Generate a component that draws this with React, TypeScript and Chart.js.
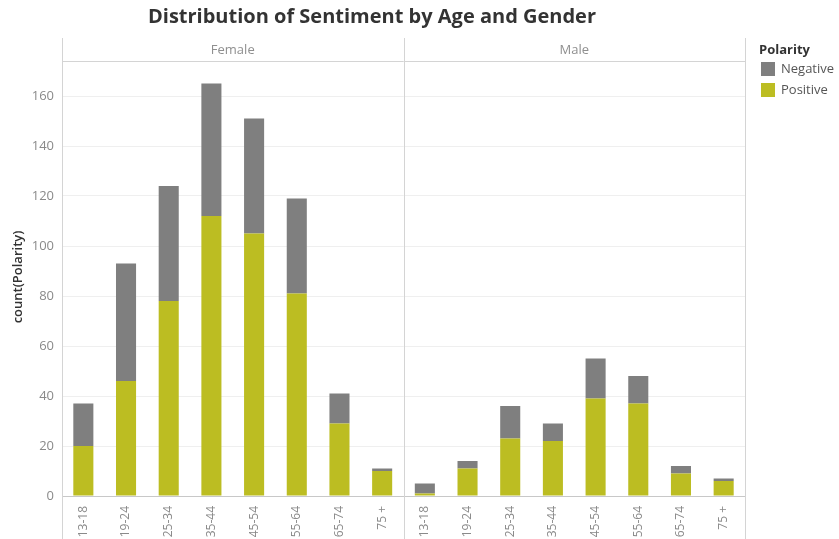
import React, { useEffect, useRef } from "react";
import { Chart, registerables } from "chart.js";

Chart.register(...registerables);

const ageGroups = ["13-18", "19-24", "25-34", "35-44", "45-54", "55-64", "65-74", "75 +"];
const genders = ["Female", "Male"];
const femalePositive = [20, 46, 78, 112, 105, 81, 29, 10];
const femaleNegative = [17, 47, 46, 53, 46, 38, 12, 1];
const malePositive = [1, 11, 23, 22, 39, 37, 9, 6];
const maleNegative = [4, 3, 13, 7, 16, 11, 3, 1];
const yTicks = [0, 20, 40, 60, 80, 100, 120, 140, 160];

const TITLE = "Distribution of Sentiment by Age and Gender";
const Y_TITLE = "count(Polarity)";
const LEGEND_TITLE = "Polarity";
const NEG_COLOR = "#7f7f7f";
const POS_COLOR = "#bcbd22";
const FONT = "'Open Sans', 'Noto Sans', sans-serif";

export default function App() {
  const ref = useRef<HTMLCanvasElement | null>(null);

  useEffect(() => {
    const canvas = ref.current;
    if (!canvas) return;
    const labels = [...ageGroups, ...ageGroups];
    const decor = {
      id: "decor",
      beforeDraw(chart: any) {
        const ctx = chart.ctx;
        ctx.save();
        ctx.fillStyle = "#ffffff";
        ctx.fillRect(0, 0, chart.width, chart.height);
        ctx.restore();
      },
      afterDraw(chart: any) {
        const ctx = chart.ctx;
        const area = chart.chartArea;
        const x = chart.scales.x;
        const n = ageGroups.length;
        const divX = (x.getPixelForValue(n - 1) + x.getPixelForValue(n)) / 2;
        const top = 38;
        ctx.save();
        // title
        ctx.fillStyle = "#333333";
        ctx.font = `bold 20px ${FONT}`;
        ctx.textAlign = "center";
        ctx.textBaseline = "middle";
        ctx.fillText(TITLE, 372, 17);
        // frame lines
        ctx.strokeStyle = "#d4d4d4";
        ctx.lineWidth = 1;
        const vl = (px: number) => {
          ctx.beginPath();
          ctx.moveTo(Math.round(px) + 0.5, top);
          ctx.lineTo(Math.round(px) + 0.5, chart.height);
          ctx.stroke();
        };
        vl(area.left);
        vl(divX);
        vl(area.right);
        ctx.beginPath();
        ctx.moveTo(area.left, Math.round(area.top) + 0.5);
        ctx.lineTo(area.right, Math.round(area.top) + 0.5);
        ctx.stroke();
        // headers
        ctx.fillStyle = "#8f8f8f";
        ctx.font = `13px ${FONT}`;
        ctx.fillText(genders[0], (area.left + divX) / 2, 50);
        ctx.fillText(genders[1], (divX + area.right) / 2, 50);
        // y title
        ctx.save();
        ctx.translate(18, 277);
        ctx.rotate(-Math.PI / 2);
        ctx.fillStyle = "#333333";
        ctx.font = `600 13px ${FONT}`;
        ctx.fillText(Y_TITLE, 0, 0);
        ctx.restore();
        // legend
        ctx.textAlign = "left";
        ctx.fillStyle = "#333333";
        ctx.font = `bold 13px ${FONT}`;
        ctx.fillText(LEGEND_TITLE, 759, 50);
        const items = [
          { label: chart.data.datasets[1].label, color: NEG_COLOR, y: 69 },
          { label: chart.data.datasets[0].label, color: POS_COLOR, y: 90 },
        ];
        ctx.font = `13px ${FONT}`;
        for (const it of items) {
          ctx.fillStyle = it.color;
          ctx.fillRect(761, it.y - 7, 14, 14);
          ctx.fillStyle = "#555555";
          ctx.fillText(it.label, 781, it.y);
        }
        ctx.restore();
      },
    };

    const chart = new Chart(canvas, {
      type: "bar",
      data: {
        labels,
        datasets: [
          {
            label: "Positive",
            data: [...femalePositive, ...malePositive],
            backgroundColor: POS_COLOR,
            categoryPercentage: 1,
            barPercentage: 0.47,
          },
          {
            label: "Negative",
            data: [...femaleNegative, ...maleNegative],
            backgroundColor: NEG_COLOR,
            categoryPercentage: 1,
            barPercentage: 0.47,
          },
        ],
      },
      options: {
        animation: false,
        responsive: false,
        maintainAspectRatio: false,
        layout: { padding: { left: 0, top: 61, right: 94, bottom: 0 } },
        plugins: {
          legend: { display: false },
          title: { display: false },
          tooltip: { enabled: false },
        },
        scales: {
          x: {
            stacked: true,
            grid: { display: false },
            border: { display: true, color: "#c8c8c8" },
            ticks: {
              minRotation: 90,
              maxRotation: 90,
              autoSkip: false,
              color: "#8a8a8a",
              font: { family: FONT, size: 12 },
              padding: 2,
            },
            afterFit(scale: any) {
              scale.height = 43;
            },
          },
          y: {
            stacked: true,
            min: 0,
            max: 174,
            grid: { color: "#efefef", drawTicks: false },
            border: { display: false },
            afterBuildTicks(scale: any) {
              scale.ticks = yTicks.map((v) => ({ value: v }));
            },
            ticks: {
              color: "#8a8a8a",
              font: { family: FONT, size: 13 },
              padding: 8,
            },
            afterFit(scale: any) {
              scale.width = 62;
            },
          },
        },
      },
      plugins: [decor],
    });
    return () => chart.destroy();
  }, []);

  return (
    <div style={{ position: "fixed", left: 0, top: 0, width: 839, height: 539, background: "#fff" }}>
      <canvas ref={ref} width={839} height={539} style={{ display: "block", width: 839, height: 539 }} />
    </div>
  );
}
